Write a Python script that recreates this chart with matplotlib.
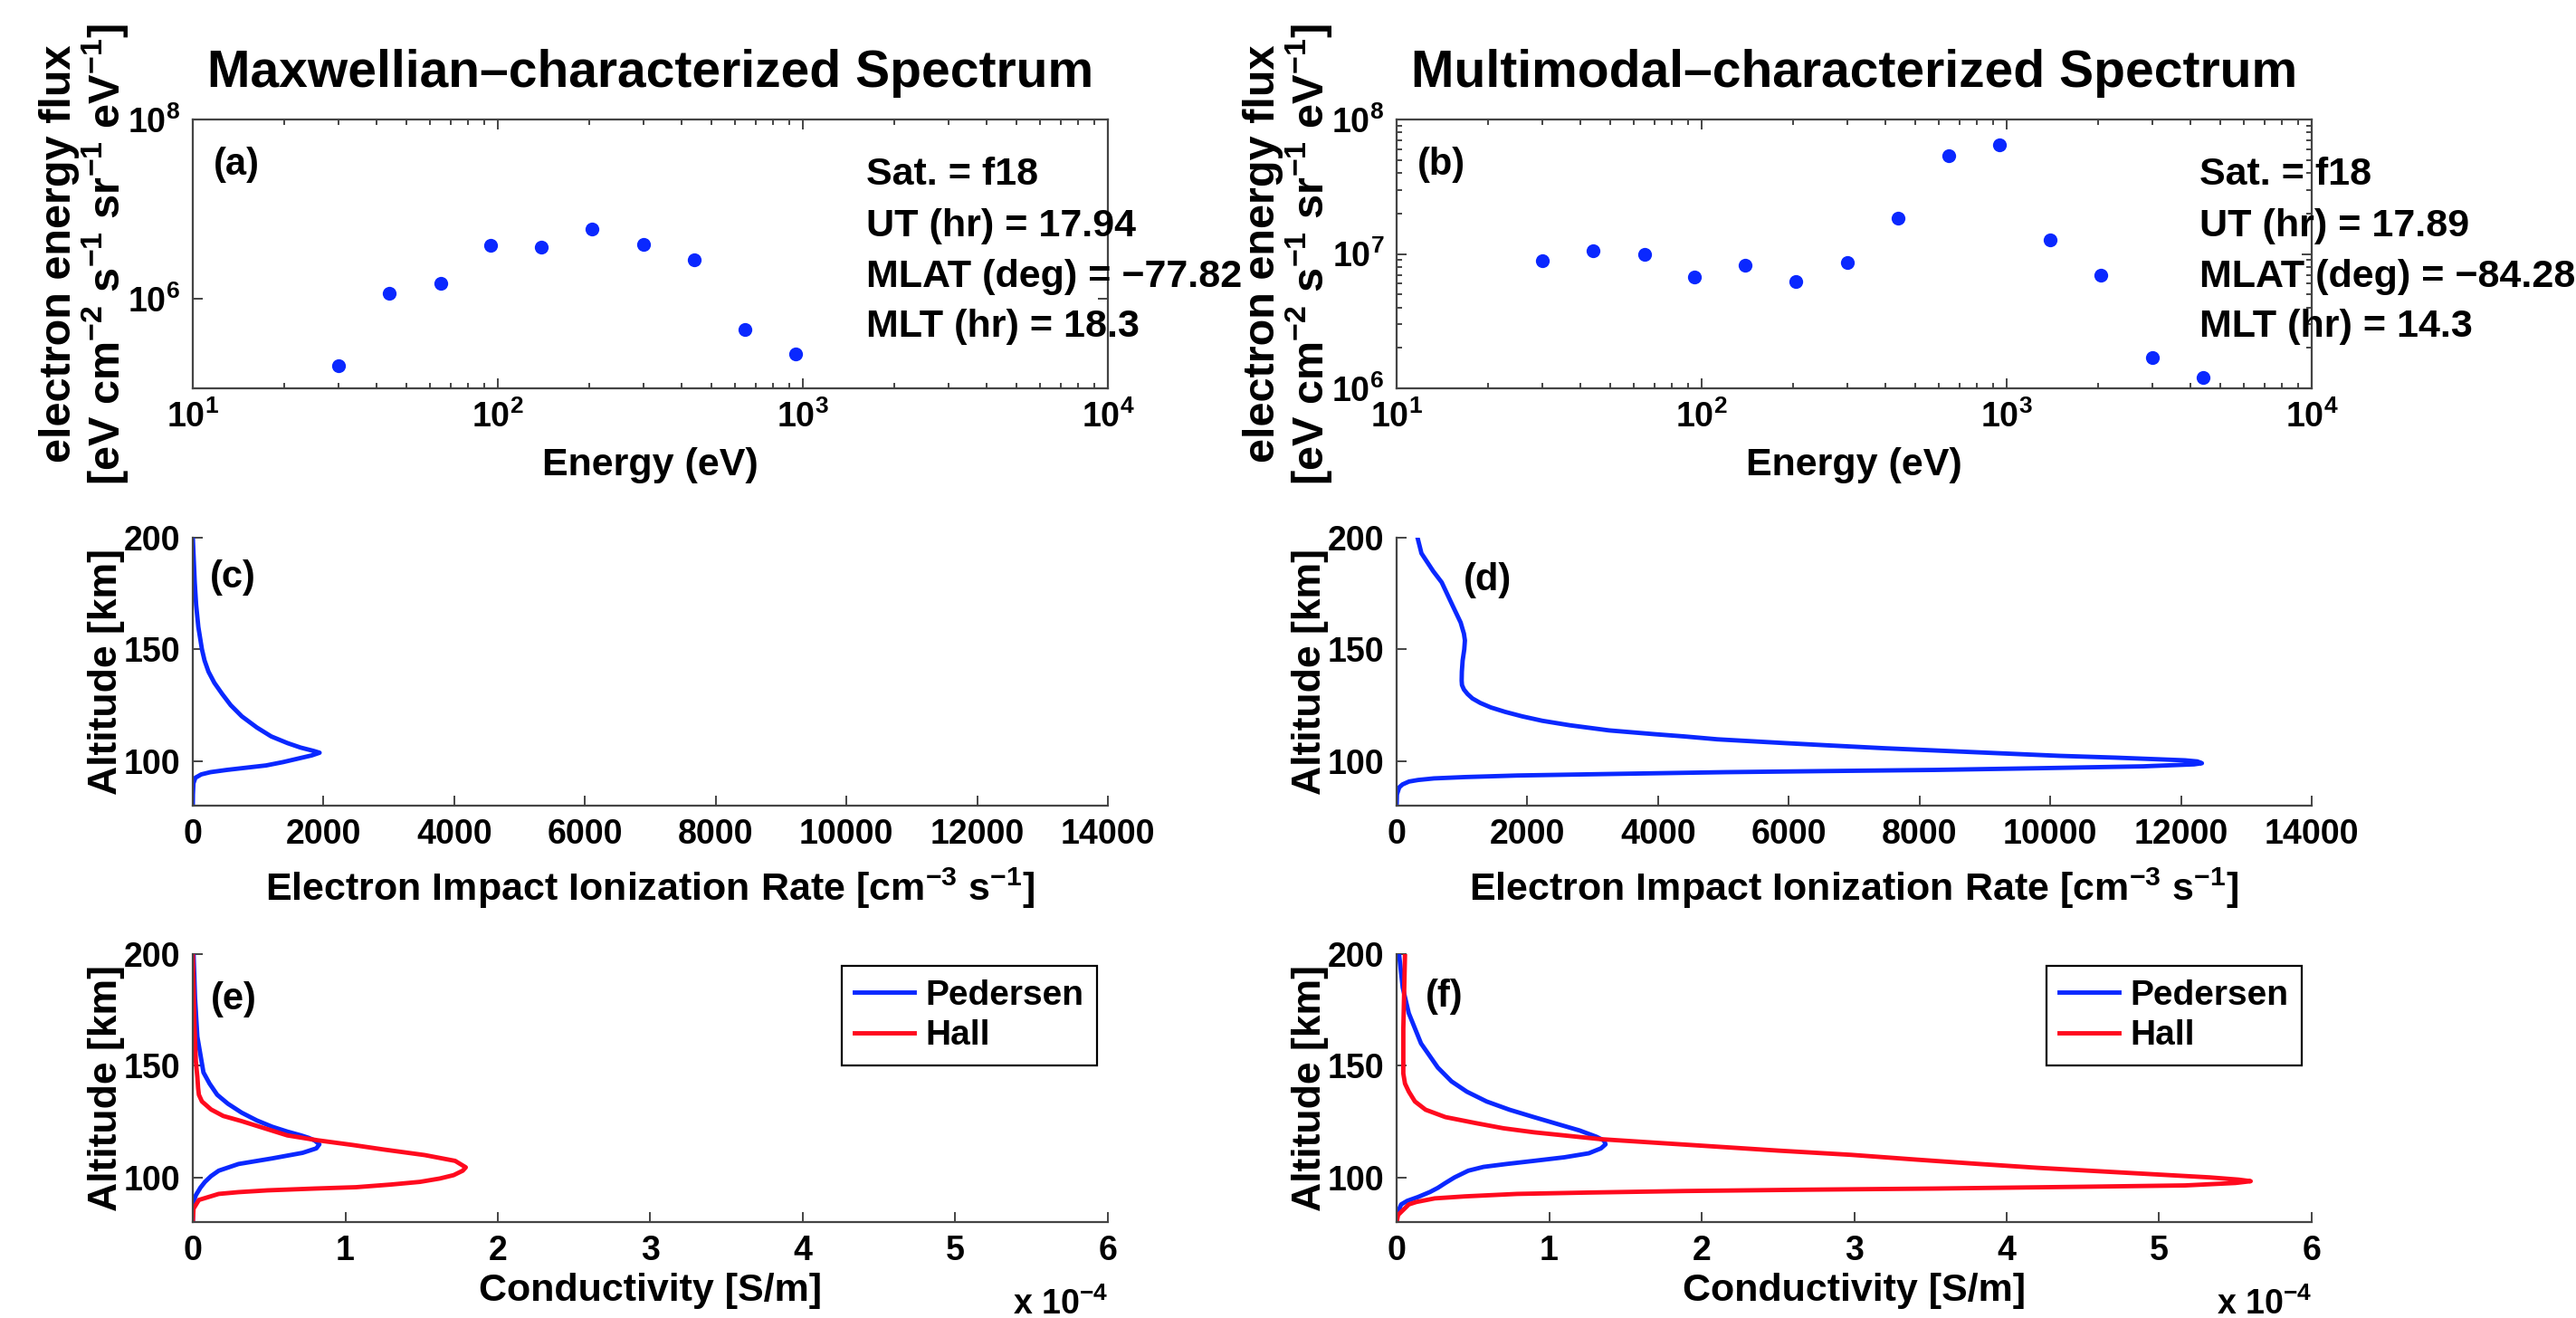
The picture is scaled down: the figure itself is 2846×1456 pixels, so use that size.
import numpy as np
import matplotlib.pyplot as plt
from matplotlib.ticker import FixedLocator, FuncFormatter, LogLocator, NullLocator

plt.rcParams['font.family'] = ['Liberation Sans', 'DejaVu Sans']
plt.rcParams['font.weight'] = 'bold'
plt.rcParams['axes.labelweight'] = 'bold'
plt.rcParams['mathtext.fontset'] = 'custom'
plt.rcParams['mathtext.rm'] = 'Liberation Sans:bold'
plt.rcParams['mathtext.bf'] = 'Liberation Sans:bold'
plt.rcParams['mathtext.it'] = 'Liberation Sans:bold:italic'
plt.rcParams['mathtext.sf'] = 'Liberation Sans:bold'
plt.rcParams['mathtext.default'] = 'bf'

#%% data
# SSJ energy channels [eV] and electron energy flux
energy_a = [30, 44, 65, 95, 139, 204, 300, 440, 646, 949]
flux_a = [1.8e5, 1.16e6, 1.5e6, 3.9e6, 3.8e6, 6.0e6, 4.0e6, 2.75e6, 4.5e5, 2.4e5]
energy_b = [30, 44, 65, 95, 139, 204, 300, 440, 646, 949, 1392, 2040, 3000, 4400]
flux_b = [8.9e6, 1.06e7, 1.0e7, 6.7e6, 8.2e6, 6.2e6, 8.6e6, 1.85e7, 5.4e7, 6.5e7,
          1.28e7, 6.9e6, 1.7e6, 1.2e6]

info_a = ['Sat. = f18', 'UT (hr) = 17.94', 'MLAT (deg) = \u221277.82', 'MLT (hr) = 18.3']
info_b = ['Sat. = f18', 'UT (hr) = 17.89', 'MLAT (deg) = \u221284.28', 'MLT (hr) = 14.3']

# ionization rate profiles [cm^-3 s^-1] vs altitude [km]
alt_c = [200, 190, 180, 170, 160, 150, 145, 140, 135, 130, 125, 120, 115, 111, 108, 106,
         104.5, 103.7, 102.5, 101, 99.5, 98, 97, 96, 95, 94, 92.5, 90, 85, 80]
rate_c = [0, 15, 30, 51, 85, 140, 180, 240, 330, 450, 580, 750, 980, 1200, 1450, 1650,
          1850, 1940, 1820, 1600, 1380, 1120, 820, 520, 270, 130, 40, 10, 2, 0]
alt_d = [200, 193, 185, 180, 170, 162, 157, 154, 150, 145, 140, 136, 134, 132, 130, 128, 126,
         124, 122, 120, 118, 116, 113.7, 112, 111, 109.7, 108, 107, 105.7, 104, 102.3, 101.5,
         100.3, 99.8, 99, 98.5, 97.6, 96.8, 96, 95.5, 95, 94.2, 93.5, 92.8, 92.2, 91.5, 90.8,
         89.5, 88.2, 85, 80]
rate_d = [320, 380, 560, 690, 850, 980, 1030, 1045, 1035, 1010, 998, 995, 1000, 1030, 1085,
          1160, 1280, 1440, 1660, 1920, 2230, 2650, 3250, 3950, 4400, 4910, 5950, 6600, 7470,
          8800, 10140, 11000, 12060, 12250, 12320, 12200, 11420, 9900, 8230, 6600, 5040, 3300,
          1850, 1050, 570, 330, 190, 90, 40, 5, 0]

# conductivity profiles [S/m], read in units of 1e-4
alt_ped_e = [200, 180, 163, 155, 147, 142, 137, 133, 129, 125.5, 122.7, 120.5, 118.8, 117.7,
             116.5, 114.8, 113, 111, 108.5, 106, 103, 100.6, 98, 95.4, 92, 89, 85, 80]
ped_e = [0.005, 0.015, 0.03, 0.05, 0.07, 0.11, 0.16, 0.23, 0.32, 0.42, 0.52, 0.62, 0.71, 0.76,
         0.80, 0.83, 0.81, 0.72, 0.52, 0.30, 0.17, 0.12, 0.08, 0.05, 0.02, 0.005, 0, 0]
alt_hall_e = [200, 170, 152, 145, 140, 137, 134, 130.4, 127.5, 125.2, 122, 118.8, 116.6, 114.5,
              112.5, 110, 107.4, 104.5, 103, 101, 99.5, 98, 96.8, 95.6, 95, 94.2, 93.4, 92.6,
              89.9, 86, 80]
hall_e = [0, 0.01, 0.02, 0.03, 0.035, 0.04, 0.06, 0.12, 0.2, 0.32, 0.47, 0.62, 0.82, 1.05,
          1.25, 1.52, 1.72, 1.79, 1.77, 1.71, 1.62, 1.49, 1.30, 1.07, 0.80, 0.49, 0.30, 0.17,
          0.04, 0.005, 0]
alt_ped_f = [200, 185, 173.5, 160, 149.2, 143, 138.4, 134, 130.3, 127, 123.6, 121, 118.2,
             116.5, 114.8, 113, 110.8, 109, 107.4, 106, 104.7, 103, 100, 97.5, 95.3, 93.5,
             91.2, 89.5, 87.9, 84, 80]
ped_f = [0.016, 0.04, 0.08, 0.16, 0.27, 0.36, 0.46, 0.59, 0.74, 0.90, 1.07, 1.20, 1.31,
         1.36, 1.37, 1.34, 1.26, 1.10, 0.90, 0.72, 0.57, 0.47, 0.38, 0.32, 0.27, 0.22,
         0.14, 0.07, 0.03, 0.005, 0]
alt_hall_f = [200, 166.7, 146.5, 142, 138.4, 134, 130.3, 127, 124.3, 122, 120.2, 117.1, 114.2,
              112, 110.1, 108, 106.1, 104.3, 102.7, 100, 99, 98.3, 97.5, 96.4, 95.8, 95, 94.5,
              93.9, 93.2, 92.6, 91.5, 90.6, 89, 87.9, 83.2, 80]
hall_f = [0.055, 0.044, 0.044, 0.055, 0.08, 0.12, 0.19, 0.32, 0.52, 0.70, 0.90, 1.34, 2.0,
          2.5, 2.98, 3.4, 3.80, 4.2, 4.62, 5.33, 5.52, 5.60, 5.50, 5.17, 4.5, 3.53, 2.7,
          1.89, 1.25, 0.79, 0.45, 0.25, 0.13, 0.08, 0.01, 0]

BLUE = '#0a28ff'
RED = '#ff0a1e'
AXC = '#444444'


def style_axes(ax, box):
    ax.spines['top'].set_visible(box)
    ax.spines['right'].set_visible(box)
    for s in ax.spines.values():
        s.set_linewidth(1.6)
        s.set_color(AXC)
    ax.tick_params(which='both', direction='in', top=box, right=box, labelsize=27,
                   width=1.4, color=AXC, pad=10)
    ax.tick_params(which='major', length=8)
    ax.tick_params(which='minor', length=4)


def log_label(v, pos):
    return r'$10^{%d}$' % int(round(np.log10(v)))


#%% figure
W, H = 2846, 1456
fig = plt.figure(figsize=(W / 100, H / 100), dpi=100)


def axes_px(left, top, right, bottom):
    return fig.add_axes([left / W, 1 - bottom / H, (right - left) / W, (bottom - top) / H])


cols = [(213, 1224), (1543, 2554)]

#%% spectra (a), (b)
spec = [(energy_a, flux_a, info_a, '(a)', 'Maxwellian\u2013characterized Spectrum', 1e5, 0.736),
        (energy_b, flux_b, info_b, '(b)', 'Multimodal\u2013characterized Spectrum', 1e6, 0.877)]
for (x0, x1), (en, fl, info, tag, title, ylo, tx) in zip(cols, spec):
    ax = axes_px(x0, 132, x1, 429)
    ax.plot(en, fl, 'o', color=BLUE, ms=11, mec='none')
    ax.set_xscale('log')
    ax.set_yscale('log')
    ax.set_xlim(10, 1e4)
    ax.set_ylim(ylo, 1e8)
    style_axes(ax, True)
    ax.xaxis.set_major_locator(FixedLocator([10, 100, 1000, 10000]))
    ax.xaxis.set_minor_locator(LogLocator(base=10, subs=np.arange(2, 10)))
    ax.xaxis.set_major_formatter(FuncFormatter(log_label))
    if ylo == 1e5:
        ax.yaxis.set_major_locator(FixedLocator([1e6, 1e8]))
        ax.yaxis.set_minor_locator(NullLocator())
    else:
        ax.yaxis.set_major_locator(FixedLocator([1e6, 1e7, 1e8]))
        ax.yaxis.set_minor_locator(LogLocator(base=10, subs=np.arange(2, 10)))
    ax.yaxis.set_major_formatter(FuncFormatter(log_label))
    ax.set_title(title, fontsize=41, fontweight='bold', pad=26)
    ax.set_xlabel('Energy (eV)', fontsize=31, fontweight='bold', va='top')
    ax.xaxis.set_label_coords(0.5, -0.22)
    ax.set_ylabel('electron energy flux\n'
                  r'[eV cm$^{-2}$ s$^{-1}$ sr$^{-1}$ eV$^{-1}$]', fontsize=35,
                  fontweight='bold', linespacing=1.0)
    ax.yaxis.set_label_coords(-0.068, 0.5)
    ax.text(0.023, 0.832, tag, transform=ax.transAxes, fontsize=30, va='center')
    for line, yy in zip(info, [0.758, 0.566, 0.377, 0.192]):
        ax.text(tx, yy, line, transform=ax.transAxes, fontsize=31, va='baseline')

#%% ionization rate (c), (d)
ion = [(rate_c, alt_c, '(c)', 0.0185, 0.851), (rate_d, alt_d, '(d)', 0.073, 0.842)]
for (x0, x1), (rate, alt, tag, lx, ly) in zip(cols, ion):
    ax = axes_px(x0, 594, x1, 890)
    ax.plot(rate, alt, color=BLUE, lw=3.5, solid_joinstyle='round')
    ax.set_xlim(0, 14000)
    ax.set_ylim(80, 200)
    style_axes(ax, False)
    ax.set_xticks(np.arange(0, 14001, 2000))
    ax.set_yticks([100, 150, 200])
    ax.set_xlabel(r'Electron Impact Ionization Rate [cm$^{-3}$ s$^{-1}$]', fontsize=31,
                  fontweight='bold', va='top')
    ax.xaxis.set_label_coords(0.5, -0.225)
    ax.set_ylabel('Altitude [km]', fontsize=32, fontweight='bold')
    ax.yaxis.set_label_coords(-0.074, 0.5)
    ax.text(lx, ly, tag, transform=ax.transAxes, fontsize=30, va='center')

#%% conductivity (e), (f)
cond = [(ped_e, alt_ped_e, hall_e, alt_hall_e, '(e)', 0.02, 0.831, 0.988),
        (ped_f, alt_ped_f, hall_f, alt_hall_f, '(f)', 0.032, 0.84, 0.989)]
for (x0, x1), (ped, ap, hall, ah, tag, lx, ly, lgx) in zip(cols, cond):
    ax = axes_px(x0, 1054, x1, 1350)
    ax.plot(np.array(ped) * 1e-4, ap, color=BLUE, lw=3.5, solid_joinstyle='round',
            label='Pedersen')
    ax.plot(np.array(hall) * 1e-4, ah, color=RED, lw=3.5, solid_joinstyle='round',
            label='Hall')
    ax.set_xlim(0, 6e-4)
    ax.set_ylim(80, 200)
    style_axes(ax, False)
    ax.set_xticks(np.arange(0, 7) * 1e-4)
    ax.xaxis.set_major_formatter(FuncFormatter(lambda v, p: '%d' % round(v * 1e4)))
    ax.set_yticks([100, 150, 200])
    ax.set_xlabel('Conductivity [S/m]', fontsize=31, fontweight='bold', va='top')
    ax.xaxis.set_label_coords(0.5, -0.19)
    ax.set_ylabel('Altitude [km]', fontsize=32, fontweight='bold')
    ax.yaxis.set_label_coords(-0.074, 0.5)
    ax.text(lx, ly, tag, transform=ax.transAxes, fontsize=30, va='center')
    # exponent note under the axis (cut by the page edge in the original)
    ax.text(1.0, -0.345, r'x 10$^{-4}$', transform=ax.transAxes, fontsize=27,
            ha='right', va='baseline')
    leg = ax.legend(loc='upper right', bbox_to_anchor=(lgx, 0.956), borderaxespad=0,
                    fontsize=28, fancybox=False, edgecolor='black', framealpha=1,
                    handlelength=1.7, handletextpad=0.3, labelspacing=0.22, borderpad=0.38)
    leg.get_frame().set_linewidth(1.6)

fig.savefig('out.png', dpi=100)
